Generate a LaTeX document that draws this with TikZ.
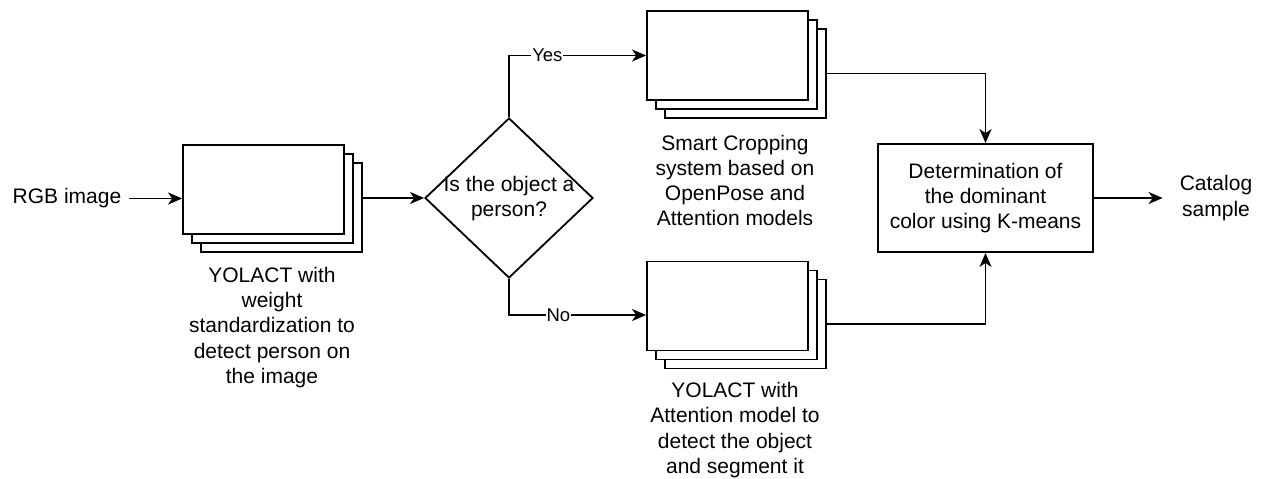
\documentclass[tikz,border=0pt]{standalone}
\usepackage{fontspec}
\setmainfont{Liberation Sans}
\usetikzlibrary{arrows.meta,shapes.geometric}
\begin{document}
\begin{tikzpicture}[x=1pt,y=-1pt,
  every node/.style={font=\fontsize{21}{25.3}\selectfont},
  card/.style={draw, fill=white, line width=1.8pt, minimum width=161pt, minimum height=89pt, inner sep=0pt},
  proc/.style={draw, line width=1.8pt, minimum width=215pt, minimum height=108pt, inner sep=0pt, align=center},
  caption/.style={align=center, inner sep=0pt},
  decision/.style={diamond, draw, line width=1.8pt, minimum width=168pt, minimum height=160pt, inner sep=0pt},
  arr/.style={-{Stealth[length=14pt,width=12pt,inset=4pt]}, line width=1.6pt},
  lbl/.style={fill=white, inner sep=1pt, font=\fontsize{18.5}{22}\selectfont},
]
\useasboundingbox (0,0) rectangle (1269,479);

% input
\node[inner xsep=8pt, inner ysep=0pt] (rgb) at (67,198.5) {RGB image};

% person detection (stacked documents)
\node[card] (s1c) at (281.5,207.5) {};
\node[card] (s1b) at (272.5,198.5) {};
\node[card] (s1a) at (263.5,189.5) {};
\node[caption] (t1) at (272,327.5) {YOLACT with\\weight\\standardization to\\detect person on\\the image};

% decision
\node[decision] (dia) at (509,198) {};
\node[caption] (dt) at (509,198.5) {Is the object a\\person?};

% smart cropping
\node[card] (s2c) at (745.5,73.5) {};
\node[card] (s2b) at (736.5,64.5) {};
\node[card] (s2a) at (727.5,55.5) {};
\node[caption] (t2) at (735,180.5) {Smart Cropping\\system based on\\OpenPose and\\Attention models};

% object segmentation
\node[card] (s3c) at (745.5,324) {};
\node[card] (s3b) at (736.5,315) {};
\node[card] (s3a) at (727.5,306) {};
\node[caption] (t3) at (735,430) {YOLACT with\\Attention model to\\detect the object\\and segment it};

% dominant colour
\node[proc] (det) at (985.5,198) {Determination of\\the dominant\\color using K-means};

% output
\node[align=center, inner xsep=17pt, inner ysep=0pt] (cat) at (1216,198) {Catalog\\sample};

% connectors
\draw[arr] (rgb.east) -- (s1a.west |- s1b.center);
\draw[arr] (s1c.east |- dia.west) -- (dia.west);
\draw[arr] (dia.north) |- node[lbl, pos=0.64] {Yes} (s2a.west);
\draw[arr] (dia.south) |- node[lbl, pos=0.68] {No} (s3a.west |- s3b.center);
\draw[arr] (s2c.east) -| (det.north);
\draw[arr] (s3c.east) -| (det.south);
\draw[arr] (det.east) -- (cat.west);
\end{tikzpicture}
\end{document}
